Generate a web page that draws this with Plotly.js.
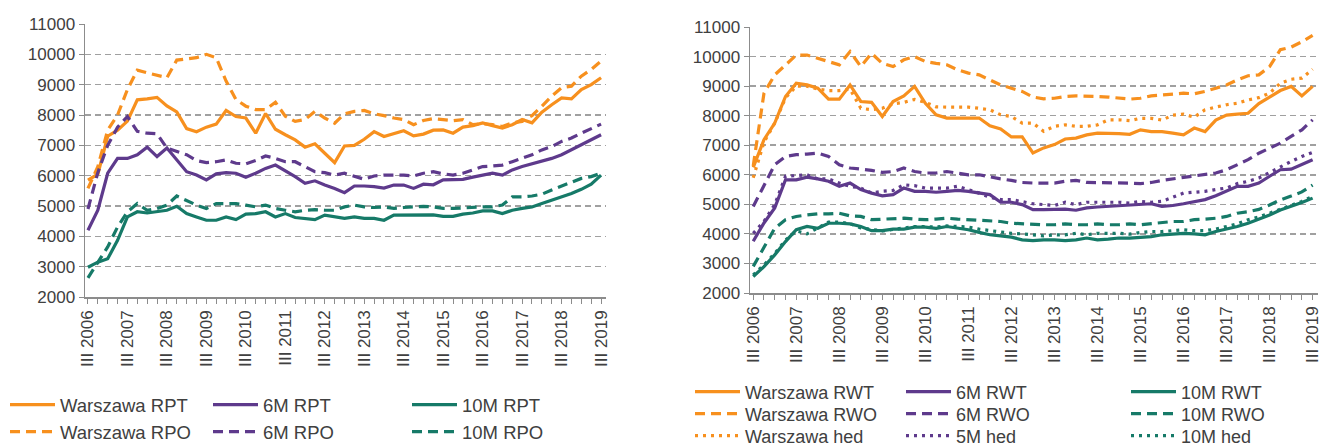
<!DOCTYPE html>
<html><head><meta charset="utf-8">
<script src="https://cdn.plot.ly/plotly-3.0.1.min.js"></script>
<style>html,body{margin:0;padding:0;overflow:hidden;background:#fff}#chart{width:1321px;height:448px}</style>
</head><body><div id="chart"></div><script>
const quarters = ["III 2006","IV 2006",
"I 2007","II 2007","III 2007","IV 2007","I 2008","II 2008","III 2008","IV 2008",
"I 2009","II 2009","III 2009","IV 2009","I 2010","II 2010","III 2010","IV 2010",
"I 2011","II 2011","III 2011","IV 2011","I 2012","II 2012","III 2012","IV 2012",
"I 2013","II 2013","III 2013","IV 2013","I 2014","II 2014","III 2014","IV 2014",
"I 2015","II 2015","III 2015","IV 2015","I 2016","II 2016","III 2016","IV 2016",
"I 2017","II 2017","III 2017","IV 2017","I 2018","II 2018","III 2018","IV 2018",
"I 2019","II 2019","III 2019"];

// Left panel: RPT / RPO
const warszawaRPT = [5850,6050,7300,7500,7800,8500,8530,8580,8300,8100,7550,7450,7600,7700,8150,7950,7900,7400,8050,7530,7350,7180,6940,7050,6740,6430,6980,7000,7200,7450,7290,7380,7480,7310,7370,7500,7510,7400,7600,7650,7740,7650,7570,7680,7850,7740,8090,8340,8560,8530,8840,9000,9230];
const warszawaRPO = [5580,6300,7500,8000,8840,9480,9390,9300,9230,9810,9860,9890,10000,9890,9120,8510,8290,8180,8180,8420,7960,7790,7850,8120,7900,7730,8040,8120,8150,8040,7980,7900,7850,7680,7820,7880,7850,7810,7850,7680,7710,7680,7620,7740,7790,7980,8290,8620,8900,8950,9280,9500,9780];
const m6RPT = [4200,4860,6080,6570,6570,6690,6940,6630,6910,6520,6130,6020,5860,6060,6100,6080,5950,6080,6240,6350,6170,5970,5750,5830,5690,5580,5440,5660,5660,5640,5590,5690,5690,5580,5720,5700,5860,5860,5880,5950,6020,6080,6020,6190,6300,6390,6460,6570,6690,6850,7020,7180,7350];
const m6RPO = [4900,6100,7000,7600,7950,7460,7400,7380,6910,6800,6690,6500,6430,6460,6520,6410,6390,6500,6650,6570,6460,6460,6300,6130,6100,6020,6080,5970,5880,5990,6020,6020,6020,5990,6080,6130,6060,6020,6080,6190,6300,6320,6350,6460,6570,6690,6850,6960,7130,7240,7400,7540,7700];
const m10RPT = [2980,3150,3260,3870,4640,4810,4770,4810,4860,4990,4750,4640,4530,4530,4640,4550,4730,4750,4810,4640,4750,4620,4590,4550,4700,4640,4590,4640,4590,4590,4530,4700,4700,4700,4700,4710,4660,4660,4730,4770,4840,4840,4750,4860,4920,4970,5080,5190,5300,5410,5550,5720,6020];
const m10RPO = [2630,3150,3650,4310,4810,5080,4860,4920,5030,5330,5190,5030,4920,5080,5080,5080,5030,4970,5030,4920,4860,4810,4860,4880,4860,4860,4970,5030,4970,4950,4970,4920,4950,4970,4990,4970,4920,4920,4940,4970,4970,4970,5030,5300,5300,5330,5390,5530,5660,5800,5910,5970,6080];

// Right panel: RWT / RWO / hed
const warszawaRWT = [6250,7190,7750,8650,9100,9040,8930,8560,8560,9040,8480,8450,7970,8480,8670,8990,8420,8030,7920,7920,7920,7920,7660,7550,7280,7280,6740,6910,7020,7210,7240,7350,7410,7410,7390,7370,7520,7460,7460,7410,7350,7580,7460,7850,8020,8050,8080,8410,8640,8850,8990,8670,8990];
const warszawaRWO = [6300,8760,9380,9730,10050,10050,9940,9830,9720,10170,9660,10110,9770,9660,9890,10000,9830,9770,9720,9550,9440,9380,9210,9040,8930,8820,8630,8570,8590,8650,8670,8670,8650,8630,8590,8560,8590,8670,8700,8740,8760,8740,8820,8930,9040,9210,9350,9380,9660,10230,10320,10500,10720];
const warszawaHed = [5900,7100,7750,8600,9000,9000,8900,8850,8850,8900,8250,8200,8250,8400,8450,8550,8450,8300,8290,8290,8290,8250,8200,8030,7970,7750,7750,7470,7640,7690,7640,7640,7690,7860,7860,7830,7910,7910,7850,8020,8050,7950,8200,8290,8370,8420,8530,8610,8760,9100,9230,9270,9570];
const m6RWT = [3750,4370,4880,5830,5830,5920,5860,5780,5610,5720,5500,5380,5290,5330,5550,5440,5440,5410,5440,5470,5440,5380,5330,5070,5070,4990,4820,4820,4840,4840,4800,4880,4910,4930,4960,4960,4990,5020,4930,4960,5020,5100,5160,5290,5440,5610,5610,5720,5950,6170,6190,6340,6510];
const m6RWO = [4930,5610,6340,6620,6680,6700,6730,6620,6340,6230,6190,6150,6080,6110,6230,6110,6060,6060,6110,6060,6000,6000,5920,5860,5810,5740,5720,5720,5720,5780,5810,5740,5740,5740,5740,5720,5700,5740,5810,5860,5890,5950,6000,6060,6170,6340,6510,6730,6900,7070,7300,7520,7860];
const m5Hed = [4020,4420,4990,5950,5970,6000,5860,5860,5720,5610,5550,5380,5440,5470,5660,5630,5550,5550,5550,5610,5500,5380,5240,5160,5160,5100,5020,4990,4960,5070,4990,5070,5070,5070,5070,5040,5100,5070,5100,5240,5380,5410,5440,5500,5550,5700,5780,5890,6080,6280,6450,6620,6760];
const m10RWT = [2560,2890,3290,3740,4140,4250,4190,4360,4360,4340,4250,4110,4110,4160,4160,4230,4230,4190,4250,4190,4140,4050,3970,3930,3890,3800,3770,3800,3800,3770,3800,3860,3800,3820,3860,3860,3890,3910,3970,4000,4020,4000,3970,4080,4160,4250,4360,4500,4640,4810,4930,5060,5210];
const m10RWO = [2900,3570,4190,4480,4590,4640,4680,4680,4700,4610,4590,4480,4500,4530,4530,4500,4480,4500,4530,4500,4480,4460,4420,4420,4360,4340,4340,4310,4310,4340,4310,4310,4340,4310,4310,4340,4310,4340,4390,4420,4420,4480,4500,4530,4590,4700,4750,4830,4980,5150,5280,5420,5650];
const m10Hed = [2610,2950,3340,3790,4100,4000,4200,4400,4400,4350,4200,4150,4100,4150,4200,4250,4250,4230,4270,4250,4230,4160,4110,4080,4020,4000,3970,3930,3970,3970,4020,3970,4020,4020,4020,3990,4050,4080,4080,4110,4140,4110,4110,4160,4250,4340,4480,4570,4700,4830,4980,5100,5270];

const ORANGE = '#F7901E', PURPLE = '#5E3A8C', TEAL = '#167A68';
const DASH = '10px,6px', DOT = '3px,5px';
const FONT = 'Liberation Sans, Arial, sans-serif';
const TXT = '#404040';
const W = 1321, H = 448;

// [name, values, colour, dash, panel, legend x (px), legend y (px), font size]
const series = [
  ['Warszawa RPT', warszawaRPT, ORANGE, 'solid', 1, 5, 405, 18.5],
  ['6M RPT',       m6RPT,       PURPLE, 'solid', 1, 208, 405, 18.5],
  ['10M RPT',      m10RPT,      TEAL,   'solid', 1, 407, 405, 18.5],
  ['Warszawa RPO', warszawaRPO, ORANGE, DASH,    1, 5, 432, 18.5],
  ['6M RPO',       m6RPO,       PURPLE, DASH,    1, 208, 432, 18.5],
  ['10M RPO',      m10RPO,      TEAL,   DASH,    1, 407, 432, 18.5],
  ['Warszawa RWT', warszawaRWT, ORANGE, 'solid', 2, 690, 392, 18],
  ['6M RWT',       m6RWT,       PURPLE, 'solid', 2, 901, 392, 18],
  ['10M RWT',      m10RWT,      TEAL,   'solid', 2, 1126, 392, 18],
  ['Warszawa RWO', warszawaRWO, ORANGE, DASH,    2, 690, 414, 18],
  ['6M RWO',       m6RWO,       PURPLE, DASH,    2, 901, 414, 18],
  ['10M RWO',      m10RWO,      TEAL,   DASH,    2, 1126, 414, 18],
  ['Warszawa hed', warszawaHed, ORANGE, DOT,     2, 690, 436, 18],
  ['5M hed',       m5Hed,       PURPLE, DOT,     2, 901, 436, 18],
  ['10M hed',      m10Hed,      TEAL,   DOT,     2, 1126, 436, 18]
];

const data = [];
const layout = {
  width:W, height:H, margin:{l:0, r:0, t:0, b:0, autoexpand:false},
  paper_bgcolor:'#fff', plot_bgcolor:'#fff', showlegend:true, hovermode:false
};

series.forEach((s, k) => {
  const lid = k === 0 ? 'legend' : 'legend' + (k + 1);
  data.push({type:'scatter', mode:'lines', name:s[0], x:quarters, y:s[1],
    xaxis: s[4] === 1 ? 'x' : 'x2', yaxis: s[4] === 1 ? 'y' : 'y2', legend:lid,
    line:{color:s[2], width:3.2, dash:s[3]}});
  layout[lid] = {xref:'container', yref:'container', x:s[5]/W, y:1 - s[6]/H,
    xanchor:'left', yanchor:'middle', orientation:'v', itemwidth:45,
    font:{family:FONT, size:s[7], color:TXT}, bgcolor:'rgba(0,0,0,0)', borderwidth:0};
});

const ticktext = quarters.map(q => q.startsWith('III ') ? q : '');

function xaxis(l, r) {
  return {domain:[l/W, r/W], type:'category', range:[-0.3, 52.5],
    tickmode:'array', tickvals:quarters, ticktext:ticktext, tickangle:-90,
    ticks:'outside', ticklen:5, tickwidth:1, tickcolor:'#8c8c8c',
    showline:true, linecolor:'#8c8c8c', linewidth:1.5, showgrid:false, zeroline:false,
    tickfont:{family:FONT, size:17, color:TXT}, fixedrange:true};
}
function yaxis(t, b) {
  return {domain:[1-b/H, 1-t/H], range:[2000, 11000], tickmode:'linear', tick0:2000, dtick:1000,
    tickformat:'d', ticks:'outside', ticklen:5, tickwidth:1, tickcolor:'#8c8c8c',
    showline:true, linecolor:'#8c8c8c', linewidth:1.5,
    showgrid:true, gridcolor:'#a0a0a0', gridwidth:1.5, griddash:'6px,4px', zeroline:false,
    tickfont:{family:FONT, size:17, color:TXT}, fixedrange:true};
}

layout.xaxis = Object.assign(xaxis(85, 606), {anchor:'y'});
layout.yaxis = Object.assign(yaxis(24, 297), {anchor:'x'});
layout.xaxis2 = Object.assign(xaxis(750, 1318), {anchor:'y2'});
layout.yaxis2 = Object.assign(yaxis(27, 293), {anchor:'x2'});

Plotly.newPlot('chart', data, layout, {staticPlot:true, displayModeBar:false});
</script></body></html>
